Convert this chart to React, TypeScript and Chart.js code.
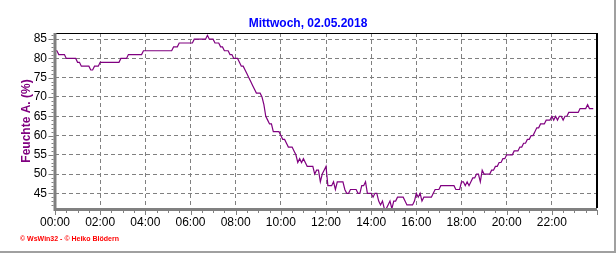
import React, { useEffect, useRef } from "react";
import { Chart, registerables } from "chart.js";

Chart.register(...registerables);

const chartTitle = "Mittwoch, 02.05.2018";
const yAxisTitle = "Feuchte A. (%)";
const creditText = "\u00a9 WsWin32 - \u00a9 Heiko Bl\u00f6dern";

// relative humidity, one reading every 5 minutes, starting 00:00
const sampleMinutes = 5;
const humidityNight = [
  82, 82, 81, 81, 81, 81, 80, 80, 80, 80, 80, 80,
  79, 79, 78, 78, 78, 78, 78, 77, 77, 78, 78, 78,
  79, 79, 79, 79, 79, 79, 79, 79, 79, 79, 79, 80,
  80, 80, 80, 81, 81, 81, 81, 81, 81, 81, 81, 82,
  82, 82, 82, 82, 82, 82, 82, 82, 82, 82, 82, 82,
  82, 82, 82, 83, 83, 83, 84, 84, 84, 84, 84, 84,
];
const humidityMorning = [
  84, 84, 85, 85, 85, 85, 85, 85, 85, 86, 85, 85,
  85, 84, 84, 84, 83, 83, 82, 82, 82, 81, 81, 80,
  80, 80, 79, 78, 78, 77, 76, 75, 74, 73, 72, 71,
  71, 71, 70, 68, 65, 64, 63, 63, 61, 61, 61, 61,
  60, 59, 59, 58, 57, 57, 57, 56, 55, 53, 54, 53,
  54, 53, 52, 52, 52, 52, 50, 51, 51, 48, 50, 51,
];
const humidityAfternoon = [
  52, 47, 47, 47, 48, 46, 48, 48, 48, 48, 46, 45,
  45, 46, 46, 46, 46, 45, 45, 47, 47, 48, 45, 45,
  45, 44, 45, 45, 43, 42, 43, 41, 41, 42, 43, 41,
  43, 43, 44, 44, 44, 44, 43, 42, 42, 42, 42, 43,
  45, 44, 45, 43, 44, 44, 44, 44, 44, 45, 46, 46,
  46, 47, 47, 47, 47, 47, 47, 47, 47, 46, 46, 46,
];
const humidityEvening = [
  48, 48, 47, 48, 47, 48, 49, 49, 50, 50, 48, 51,
  50, 50, 50, 50, 51, 51, 52, 52, 53, 53, 54, 54,
  55, 55, 55, 55, 56, 56, 56, 57, 57, 58, 58, 59,
  59, 60, 60, 61, 62, 62, 63, 63, 63, 64, 64, 64,
  65, 64, 65, 64, 65, 65, 64, 65, 65, 66, 66, 66,
  66, 66, 66, 67, 67, 67, 67, 68, 67, 67, 67,
];

const xTickMinutes = [0, 120, 240, 360, 480, 600, 720, 840, 960, 1080, 1200, 1320];
const xTickLabels = ["00:00", "02:00", "04:00", "06:00", "08:00", "10:00", "12:00", "14:00", "16:00", "18:00", "20:00", "22:00"];
const yTickValues = [45, 50, 55, 60, 65, 70, 75, 80, 85];

const FONT = '"Liberation Sans", Arial, Helvetica, sans-serif';

export default function App() {
  const canvasRef = useRef<HTMLCanvasElement | null>(null);

  useEffect(() => {
    document.body.style.margin = "0";
    const canvas = canvasRef.current;
    if (!canvas) return;

    const values = [...humidityNight, ...humidityMorning, ...humidityAfternoon, ...humidityEvening];
    const points = values.map((v, i) => ({ x: i * sampleMinutes, y: v }));

    const decor = {
      id: "decor",
      afterDraw(chart: any) {
        const ctx = chart.ctx as CanvasRenderingContext2D;
        const area = chart.chartArea;
        const xs = chart.scales.x;
        const ys = chart.scales.y;
        ctx.save();
        // top & right border (black)
        ctx.strokeStyle = "#000000";
        ctx.lineWidth = 1;
        ctx.beginPath();
        ctx.moveTo(area.left, area.top + 0.5);
        ctx.lineTo(area.right, area.top + 0.5);
        ctx.stroke();
        ctx.lineWidth = 2;
        ctx.beginPath();
        ctx.moveTo(area.right, area.top);
        ctx.lineTo(area.right, area.bottom);
        ctx.stroke();
        // left & bottom axis (gray, thick)
        ctx.strokeStyle = "#808080";
        ctx.lineWidth = 3;
        ctx.beginPath();
        ctx.moveTo(area.left, area.top);
        ctx.lineTo(area.left, area.bottom + 1.5);
        ctx.lineTo(area.right, area.bottom + 1.5);
        ctx.stroke();
        // x ticks
        ctx.lineWidth = 1;
        ctx.strokeStyle = "#808080";
        for (let m = 0; m <= 1440; m += 30) {
          const px = Math.round(xs.getPixelForValue(m)) + 0.5;
          const len = m % 120 === 0 ? 5 : 3;
          ctx.beginPath();
          ctx.moveTo(px, area.bottom + 2);
          ctx.lineTo(px, area.bottom + 2 + len);
          ctx.stroke();
        }
        // y ticks
        for (let v = 42; v <= 86; v += 1) {
          const py = Math.round(ys.getPixelForValue(v)) + 0.5;
          const len = v % 5 === 0 ? 5 : 2;
          ctx.beginPath();
          ctx.moveTo(area.left - 1.5, py);
          ctx.lineTo(area.left - 1.5 - len, py);
          ctx.stroke();
        }
        // title
        ctx.fillStyle = "#0000ff";
        ctx.font = "bold 12px " + FONT;
        ctx.textAlign = "center";
        ctx.textBaseline = "alphabetic";
        ctx.fillText(chartTitle, chart.width / 2, 27);
        // y axis title
        ctx.save();
        ctx.translate(27, 121);
        ctx.rotate(-Math.PI / 2);
        ctx.fillStyle = "#800080";
        ctx.textBaseline = "middle";
        ctx.fillText(yAxisTitle, 0, 0);
        ctx.restore();
        // credits
        ctx.fillStyle = "#ff0000";
        ctx.font = "bold 7px " + FONT;
        ctx.textAlign = "left";
        ctx.textBaseline = "alphabetic";
        ctx.fillText(creditText, 20, 241);
        // outer frame (right & bottom)
        ctx.strokeStyle = "#a0a0a0";
        ctx.lineWidth = 2;
        ctx.beginPath();
        ctx.moveTo(615, 0);
        ctx.lineTo(615, 252);
        ctx.lineTo(0, 252);
        ctx.stroke();
        ctx.restore();
      },
    };

    const chart = new Chart(canvas, {
      type: "line",
      data: {
        datasets: [
          {
            data: points,
            borderColor: "#800080",
            borderWidth: 1.2,
            pointRadius: 0,
            tension: 0,
            fill: false,
          },
        ],
      },
      options: {
        responsive: false,
        animation: false,
        devicePixelRatio: 1,
        layout: { padding: { top: 33, right: 19, bottom: 0, left: 0 } },
        plugins: {
          legend: { display: false },
          title: { display: false },
          tooltip: { enabled: false },
        },
        scales: {
          x: {
            type: "linear",
            min: 0,
            max: 1440,
            afterFit: (s: any) => {
              s.height = 45;
            },
            afterBuildTicks: (s: any) => {
              s.ticks = xTickMinutes.map((v) => ({ value: v }));
            },
            ticks: {
              autoSkip: false,
              maxRotation: 0,
              padding: 7,
              color: "#000000",
              font: { family: FONT, size: 12 },
              callback: (v: any) => xTickLabels[xTickMinutes.indexOf(Number(v))] ?? "",
            },
            grid: { color: "#808080", lineWidth: 1, drawTicks: false },
            border: { display: false, dash: [4, 3] },
          },
          y: {
            min: 41.2,
            max: 86.6,
            afterFit: (s: any) => {
              s.width = 55;
            },
            afterBuildTicks: (s: any) => {
              s.ticks = yTickValues.map((v) => ({ value: v }));
            },
            ticks: {
              padding: 8,
              color: "#000000",
              font: { family: FONT, size: 12 },
            },
            grid: { color: "#808080", lineWidth: 1, drawTicks: false },
            border: { display: false, dash: [4, 3] },
          },
        },
      },
      plugins: [decor],
    });

    return () => chart.destroy();
  }, []);

  return (
    <div style={{ width: 616, height: 253, background: "#ffffff" }}>
      <canvas ref={canvasRef} width={616} height={253} style={{ display: "block" }} />
    </div>
  );
}
